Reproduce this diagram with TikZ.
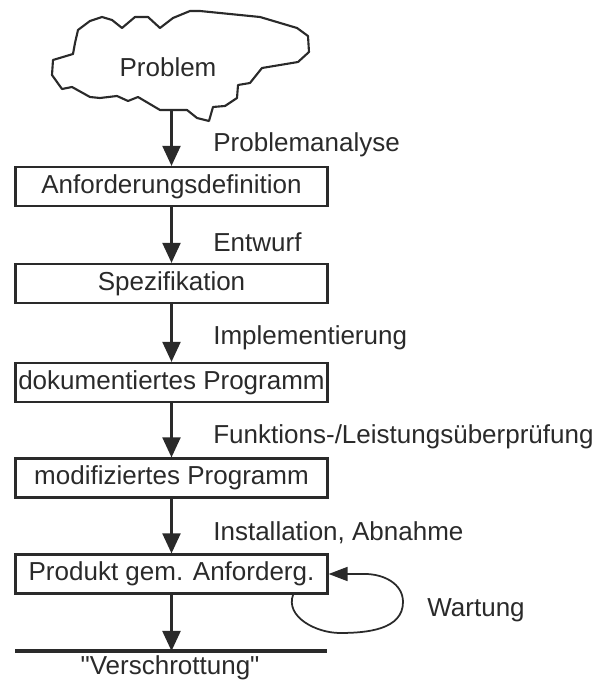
\documentclass[tikz,border=0pt]{standalone}
\usepackage{fontspec}
\setmainfont{Liberation Sans}
\usetikzlibrary{arrows.meta, calc}
\definecolor{inkDark}{HTML}{2A2A2A}

\begin{document}
\begin{tikzpicture}[
    phase/.style={draw=inkDark, line width=1.25pt, minimum width=6.24cm,
      minimum height=0.78cm, inner sep=0pt,
      font=\fontsize{14.8}{17}\selectfont\color{inkDark}},
    steplabel/.style={anchor=west, inner sep=0pt,
      font=\fontsize{14.8}{17}\selectfont\color{inkDark}},
    flow/.style={-{Triangle[length=0.40cm, width=0.36cm]}, inkDark, line width=1.2pt},
    loopflow/.style={-{Triangle[length=0.38cm, width=0.28cm]}, inkDark, line width=1pt}
  ]
  \useasboundingbox (0,0) rectangle (12.02,13.68);

  % Cloud: the problem
  \draw[inkDark, line width=1.2pt, line join=round]
    (3.80,13.46) -- (4.00,13.46) -- (5.20,13.34) -- (5.94,13.12) -- (6.16,12.96)
    -- (6.18,12.64) -- (5.96,12.44) -- (5.24,12.32) -- (5.00,12.02) -- (4.76,11.98)
    -- (4.74,11.72) -- (4.50,11.56) -- (4.26,11.54) -- (4.18,11.26) -- (3.94,11.32)
    -- (3.74,11.48) -- (3.44,11.48) -- (3.20,11.48) -- (2.76,11.74) -- (2.56,11.66)
    -- (2.34,11.76) -- (2.00,11.72) -- (1.80,11.74) -- (1.44,11.94) -- (1.24,11.90)
    -- (1.04,12.18) -- (1.06,12.48) -- (1.46,12.60) -- (1.50,12.82) -- (1.56,13.08)
    -- (1.80,13.26) -- (2.04,13.34) -- (2.24,13.28) -- (2.44,13.12) -- (2.70,13.34)
    -- (2.96,13.34) -- (3.20,13.12) -- (3.46,13.32) -- cycle;
  \node[steplabel, anchor=center] (problem) at (3.36,12.34) {Problem};
  \coordinate (problemOut) at (3.43,11.48);

  % Phases (results)
  \node[phase] (anf)  at (3.43,9.95) {Anforderungsdefinition};
  \node[phase] (spez) at (3.43,8.01) {Spezifikation};
  \node[phase] (dok)  at (3.43,6.03) {dokumentiertes Programm};
  \node[phase] (mod)  at (3.43,4.12) {modifiziertes Programm};
  \node[phase] (prod) at (3.43,2.20) {Produkt gem. Anforderg.};

  % Activities between the phases
  \draw[flow] (problemOut) -- (anf);
  \node[steplabel] (lblAnalyse) at (4.26,10.78) {Problemanalyse};
  \draw[flow] (anf) -- (spez);
  \node[steplabel] (lblEntwurf) at (4.26,8.84) {Entwurf};
  \draw[flow] (spez) -- (dok);
  \node[steplabel] (lblImpl) at (4.26,6.92) {Implementierung};
  \draw[flow] (dok) -- (mod);
  \node[steplabel] (lblTest) at (4.26,4.94) {Funktions-/Leistungsüberprüfung};
  \draw[flow] (mod) -- (prod);
  \node[steplabel] (lblInst) at (4.26,3.02) {Installation, Abnahme};

  % Maintenance loop
  \coordinate (loopStart) at ($(prod.south east)+(-0.71,0)$);
  \draw[loopflow] (loopStart) to[out=-110, in=180] (6.80,1.02)
    to[out=0, in=-90] (8.06,1.64) to[out=90, in=0] (7.30,2.20) -- (prod.east);
  \node[steplabel] (lblWartung) at (8.54,1.48) {Wartung};

  % End of life
  \draw[inkDark, line width=2.2pt] (0.30,0.66) -- (6.54,0.66);
  \coordinate (scrap) at (3.43,0.66);
  \draw[flow] (prod) -- (scrap);
  \node[steplabel, anchor=center] (lblScrap) at (3.40,0.32)
    {\textquotedbl Verschrottung\textquotedbl};
\end{tikzpicture}
\end{document}
